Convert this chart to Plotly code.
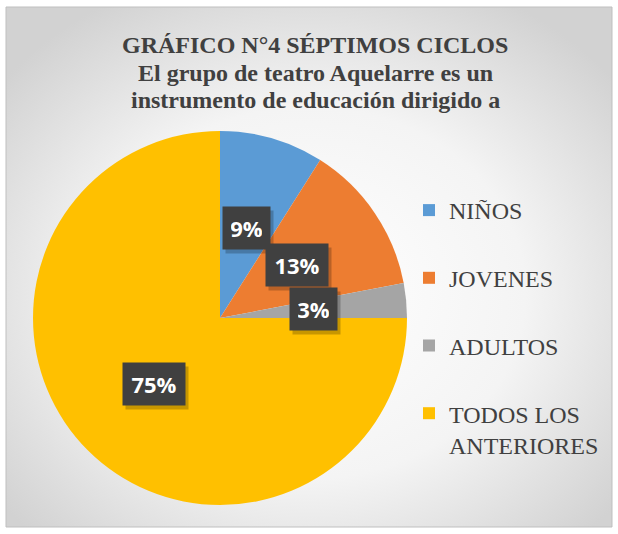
import base64, math
import plotly.graph_objects as go

categories = ["NIÑOS", "JOVENES", "ADULTOS", "TODOS LOS ANTERIORES"]
legend_labels = ["NIÑOS", "JOVENES", "ADULTOS", "TODOS LOS<br>ANTERIORES"]
values = [9, 13, 3, 75]
colors = ["#5B9BD5", "#ED7D31", "#A5A5A5", "#FFC000"]
title_lines = ["GRÁFICO N°4 SÉPTIMOS CICLOS",
               "El grupo de teatro Aquelarre es un",
               "instrumento de educación dirigido a"]

W, H = 618, 534
SERIF = "Liberation Serif, Times New Roman, Times, serif"
# pie geometry (pixels)
CX, CY, R = 220, 318, 187
dom_x = [(CX - R) / W, (CX + R) / W]
dom_y = [(H - CY - R) / H, (H - CY + R) / H]

# frame
FX0, FY0, FX1, FY1 = 6, 7, 612, 527

svg = f'''<svg xmlns="http://www.w3.org/2000/svg" width="{FX1-FX0}" height="{FY1-FY0}">
<defs><radialGradient id="g" cx="50%" cy="55%" r="65%">
<stop offset="0%" stop-color="#ffffff"/><stop offset="55%" stop-color="#f4f4f4"/>
<stop offset="100%" stop-color="#d2d2d2"/></radialGradient></defs>
<rect width="100%" height="100%" fill="url(#g)"/></svg>'''
src = "data:image/svg+xml;base64," + base64.b64encode(svg.encode()).decode()

fig = go.Figure()
fig.add_trace(go.Pie(
    labels=categories, values=values, sort=False, direction="clockwise", rotation=0,
    marker=dict(colors=colors, line=dict(width=0)),
    textinfo="none", hoverinfo="label+percent", showlegend=False,
    domain=dict(x=dom_x, y=dom_y),
))

for i, (lab, col) in enumerate(zip(legend_labels, colors)):
    fig.add_trace(go.Scatter(
        x=[None], y=[None], mode="markers", name=lab, legendgroup=f"g{i}",
        marker=dict(symbol="square", size=11, color=col), showlegend=True,
    ))

# data label boxes computed from values
total = sum(values)
cum = 0
for v in values:
    theta = 2 * math.pi * (cum + v / 2) / total
    cum += v
    px = CX + 0.5 * R * math.sin(theta)
    py = CY - 0.5 * R * math.cos(theta)
    label = f"{round(100 * v / total)}%"
    common = dict(x=px / W, y=1 - py / H, xref="paper", yref="paper",
                  xanchor="center", yanchor="middle", showarrow=False,
                  borderpad=8, height=26, width=15 * len(label) + 1)
    # shadow box
    fig.add_annotation(**common, xshift=3, yshift=-4, text="&nbsp;",
                       font=dict(family="Open Sans", size=22, color="rgba(0,0,0,0)"),
                       bgcolor="rgba(0,0,0,0.22)")
    fig.add_annotation(**common, text=f"<b>{label}</b>",
                       font=dict(family="Open Sans", size=22, color="white"),
                       bgcolor="#404040")

title_y = [45, 73, 100]
for line, ty in zip(title_lines, title_y):
    fig.add_annotation(
        x=315 / W, y=1 - ty / H, xref="paper", yref="paper", xanchor="center", yanchor="middle",
        text="<b>" + line + "</b>", showarrow=False,
        font=dict(family=SERIF, size=24, color="#404040"),
    )

fig.update_layout(
    width=W, height=H, margin=dict(l=0, r=0, t=0, b=0),
    paper_bgcolor="white", plot_bgcolor="rgba(0,0,0,0)",
    xaxis=dict(visible=False), yaxis=dict(visible=False),
    images=[dict(source=src, xref="paper", yref="paper", x=FX0 / W, y=1 - FY0 / H,
                 sizex=(FX1 - FX0) / W, sizey=(FY1 - FY0) / H, sizing="stretch",
                 xanchor="left", yanchor="top", layer="below")],
    shapes=[dict(type="rect", xref="paper", yref="paper", x0=FX0 / W, x1=FX1 / W,
                 y0=1 - FY1 / H, y1=1 - FY0 / H, line=dict(color="#bfbfbf", width=1))],
    legend=dict(x=409 / W, y=1 - 188 / H, xanchor="left", yanchor="top",
                font=dict(family=SERIF, size=24, color="#404040"),
                bgcolor="rgba(0,0,0,0)", tracegroupgap=33.5, valign="top",
                itemsizing="constant", traceorder="grouped"),
    showlegend=True,
)

fig.write_html("out.html", config={"displayModeBar": False},
               post_script="document.body.style.margin='0px';")
